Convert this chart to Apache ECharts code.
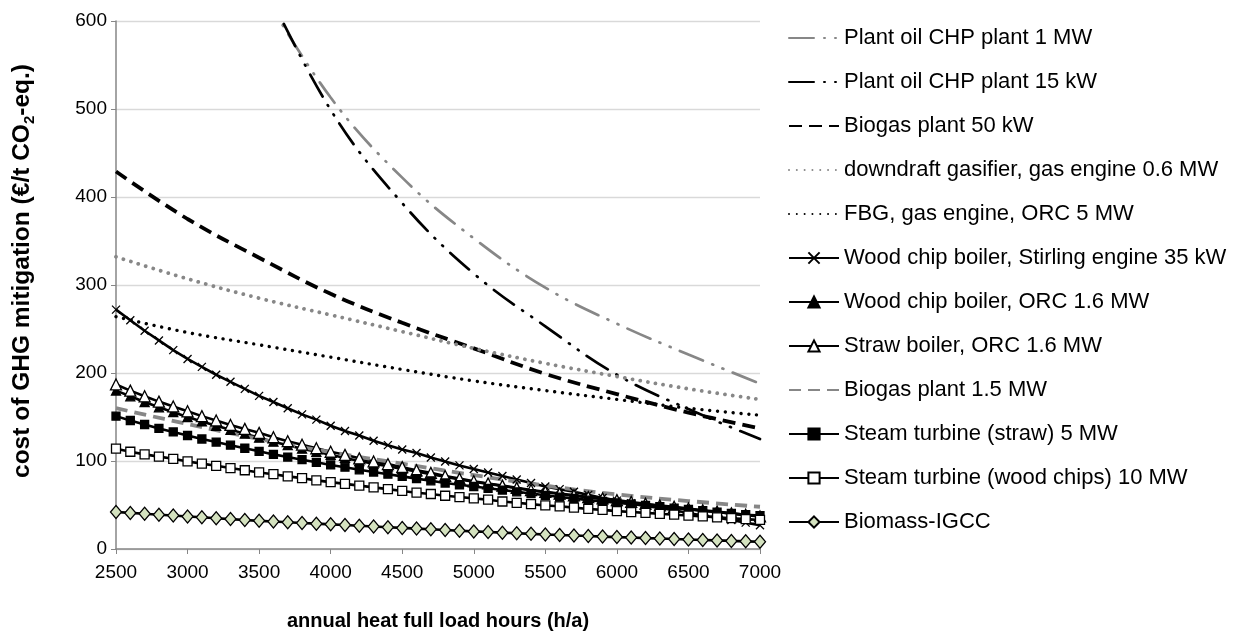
<!DOCTYPE html>
<html>
<head>
<meta charset="utf-8">
<script src="https://cdn.jsdelivr.net/npm/echarts@6/dist/echarts.min.js"></script>
<style>
html,body{margin:0;padding:0;background:#fff;}
#chart{width:1245px;height:639px;}
</style>
</head>
<body>
<div id="chart"></div>
<script>
// ---- data ----
const hours = [2500,2600,2700,2800,2900,3000,3100,3200,3300,3400,3500,3600,3700,3800,3900,4000,4100,4200,4300,4400,4500,4600,4700,4800,4900,5000,5100,5200,5300,5400,5500,5600,5700,5800,5900,6000,6100,6200,6300,6400,6500,6600,6700,6800,6900,7000];
const hoursCoarse = [2500,3000,3500,4000,4500,5000,5500,6000,6500,7000];
const hoursPlantOil = [3500,4000,4500,5000,5500,6000,6500,7000];
const xTicks = [2500,3000,3500,4000,4500,5000,5500,6000,6500,7000];
const yTicks = [0,100,200,300,400,500,600];

const plantOil1MW = [640,513,422,353,297,256,221,188];
const plantOil15kW = [655,499,393,313,253,198,159,125];
const biogas50kW = [429,375,331,290,257,228,199,176,155,137];
const downdraft = [332,307,285,266,247,228,211,196,182,170];
const fbgOrc = [264,246,232,218,204,191,180,170,160,152];
const biogas15MW = [160,142,125,110,97,84,72,62,54.5,48];

const stirling = [272,260,248,237,226,216,207,198,190,182,174,167,160,153,147,140,134,129,123,118,113,109,104,99.5,95,91,87,83,79,75,71,68,65,61.5,58,55,52,49,46.5,44,41,38,35.5,33,30,27];
const woodOrc = [180,173.5,167,161,155.5,150,145,140,135.5,131,126.5,122,118,114,110.5,107,103.5,100,97,94,91,88,85,82,79,76.5,74,71.5,69,66.5,64.5,62.5,60.5,58.5,56.5,54.5,52.5,50.5,49,47,45.5,43.5,42,40,38.5,37];
const strawOrc = [187,180,173.5,167.5,162,156.5,151,146,141,136.5,132,127,122.5,118.5,114.5,110.5,107,103,99.5,96.5,93,89.5,86.5,83,80,77,74.5,72,69.5,67,65,63,61,59,57.5,55.5,53.5,51.5,49.5,48,46,44,42.5,40.5,39,37];
const steamStraw = [151,146,141.5,137,133,129,125,121.5,118,114.5,111,107.5,104.5,101.5,98.5,95.5,93,90,87.5,85,82.5,80,77.5,75,73,71,69,67,65,63,61,59,57.5,55.5,54,52.5,51,49.5,48,46.5,45,43.5,42,40.5,39,38];
const steamWood = [114,110.5,107.5,105,102.5,99.5,97,94.5,92,89.5,87,85,82.5,80.5,78,76,74,72,70,68,66,64,62.5,60.5,59,57.5,56,54,52.5,51,49.5,48.5,47,45.5,44.5,43,42,41,40,39,38,37,36,35,34,33];
const igcc = [42,41,40,39,38,37,36,35,34,33,32,31.2,30.4,29.6,28.8,28,27.2,26.4,25.6,24.8,24,23.2,22.4,21.6,20.8,20,19.3,18.6,17.9,17.2,16.5,15.9,15.3,14.7,14.1,13.5,13,12.4,11.9,11.3,10.8,10.3,9.8,9.2,8.7,8.2];

const names = [
  'Plant oil CHP plant 1 MW',
  'Plant oil CHP plant 15 kW',
  'Biogas plant 50 kW',
  'downdraft gasifier, gas engine 0.6 MW',
  'FBG, gas engine, ORC 5 MW',
  'Wood chip boiler, Stirling engine 35 kW',
  'Wood chip boiler, ORC 1.6 MW',
  'Straw boiler, ORC 1.6 MW',
  'Biogas plant 1.5 MW',
  'Steam turbine (straw) 5 MW',
  'Steam turbine (wood chips) 10 MW',
  'Biomass-IGCC'
];
const noMarker = [true, true, true, true, true, false, false, false, true, false, false, false];

// ---- helpers ----
const pairs = (xs, ys) => xs.map((x, i) => [x, ys[i]]);
const FONT = '"Liberation Sans", Arial, sans-serif';

function smoothLine(name, xs, ys, color, width, dash, cap) {
  return {
    name, type: 'line', data: pairs(xs, ys), symbol: 'none', showSymbol: false,
    smooth: 0.4, clip: true,
    lineStyle: { color, width, type: dash, cap: cap || 'butt' },
    itemStyle: { color }
  };
}
function markerLine(name, ys, symbol, size, fill, border) {
  return {
    name, type: 'line', data: pairs(hours, ys), symbol, symbolSize: size, showSymbol: true,
    clip: true,
    lineStyle: { color: '#000', width: 2.6 },
    itemStyle: { color: fill, borderColor: border, borderWidth: 1.3 }
  };
}

const dashDotDot = [25, 10, 1, 10, 1, 10];

const series = [
  smoothLine(names[0], hoursPlantOil, plantOil1MW, '#878787', 2.7, dashDotDot, 'round'),
  smoothLine(names[1], hoursPlantOil, plantOil15kW, '#000', 2.7, dashDotDot, 'round'),
  smoothLine(names[2], hoursCoarse, biogas50kW, '#000', 3.8, [13, 7]),
  smoothLine(names[3], hoursCoarse, downdraft, '#878787', 3.8, [0.01, 7.8], 'round'),
  smoothLine(names[4], hoursCoarse, fbgOrc, '#000', 3.4, [0.01, 7.8], 'round'),
  markerLine(names[5], stirling, 'path://M0,0L10,10M10,0L0,10', 8, 'rgba(0,0,0,0)', '#000'),
  markerLine(names[6], woodOrc, 'triangle', 9, '#000', '#000'),
  markerLine(names[7], strawOrc, 'triangle', 11, '#fff', '#000'),
  smoothLine(names[8], hoursCoarse, biogas15MW, '#878787', 3.8, [12, 7]),
  markerLine(names[9], steamStraw, 'rect', 8, '#000', '#000'),
  markerLine(names[10], steamWood, 'rect', 9, '#fff', '#000'),
  markerLine(names[11], igcc, 'diamond', [11, 13], '#d4e2bf', '#000')
];

const chart = echarts.init(document.getElementById('chart'), null, { renderer: 'canvas' });
chart.setOption({
  animation: false,
  backgroundColor: '#fff',
  textStyle: { fontFamily: FONT },
  grid: { left: 116, right: 485, top: 21, bottom: 90, containLabel: false },
  legend: {
    orient: 'vertical', left: 788, top: 27, padding: 0,
    itemWidth: 50, itemHeight: 14, itemGap: 22,
    selectedMode: false,
    data: names.map((n, i) => noMarker[i] ? { name: n, itemStyle: { opacity: 0 } } : n),
    textStyle: { fontSize: 22, color: '#000', fontFamily: FONT }
  },
  xAxis: {
    type: 'value', min: xTicks[0], max: xTicks[xTicks.length - 1], interval: 500,
    name: 'annual heat full load hours (h/a)', nameLocation: 'middle', nameGap: 62,
    nameTextStyle: { fontSize: 20, fontWeight: 'bold', color: '#000', fontFamily: FONT },
    axisLine: { show: true, lineStyle: { color: '#868686', width: 1.5 } },
    axisTick: { show: true, length: 5, lineStyle: { color: '#868686' } },
    axisLabel: { fontSize: 19, color: '#000', margin: 14, fontFamily: FONT, formatter: v => String(v) },
    splitLine: { show: false }
  },
  yAxis: {
    type: 'value', min: yTicks[0], max: yTicks[yTicks.length - 1], interval: 100,
    name: '{a|cost of GHG mitigation (€/t CO}{s|2}{a|-eq.)}',
    nameLocation: 'middle', nameGap: 79, nameRotate: 90,
    nameTextStyle: {
      padding: [0, 0, 0, 28],
      rich: {
        a: { fontSize: 24.5, fontWeight: 'bold', color: '#000', fontFamily: FONT, lineHeight: 30 },
        s: { fontSize: 15, fontWeight: 'bold', color: '#000', fontFamily: FONT, verticalAlign: 'bottom', lineHeight: 15 }
      }
    },
    axisLine: { show: true, lineStyle: { color: '#868686', width: 1.5 } },
    axisTick: { show: true, length: 5, lineStyle: { color: '#868686' } },
    axisLabel: { fontSize: 19, color: '#000', margin: 9, fontFamily: FONT },
    splitLine: { show: true, lineStyle: { color: '#d9d9d9', width: 1.3 } }
  },
  series
});
</script>
</body>
</html>
